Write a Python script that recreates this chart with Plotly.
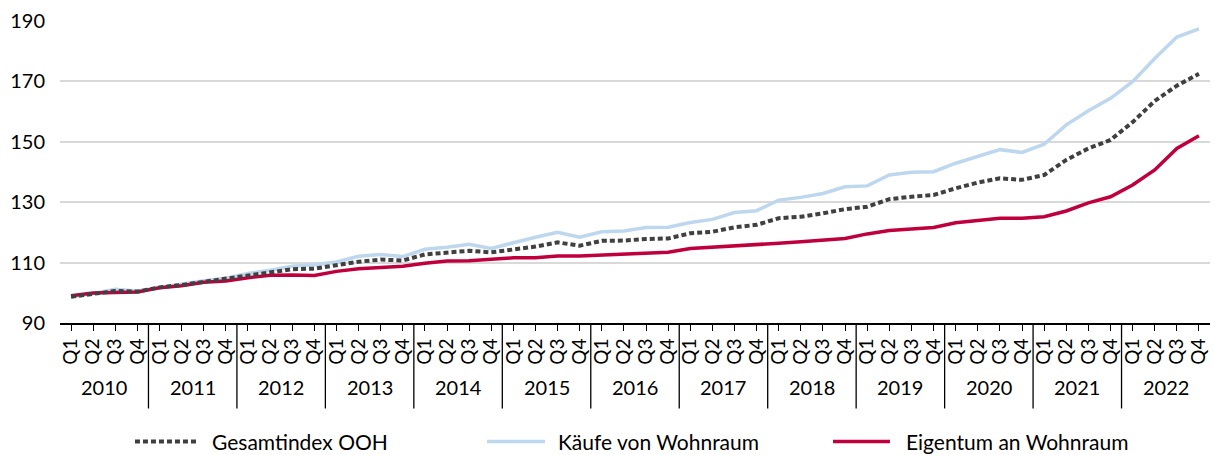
import plotly.graph_objects as go

# Quarterly periods 2010 Q1 – 2022 Q4
years = [str(y) for y in range(2010, 2023)]
quarters = ["Q1", "Q2", "Q3", "Q4"]

# Index values (2010 = 100)
gesamtindex_ooh = [
    98.7, 99.5, 100.6, 100.4, 101.8, 102.6, 103.7, 104.5, 105.9, 107.0, 107.8, 108.0,
    109.1, 110.3, 111.0, 110.7, 112.7, 113.4, 113.9, 113.4, 114.4, 115.3, 116.7, 115.6,
    117.2, 117.3, 117.8, 118.0, 119.7, 120.2, 121.7, 122.5, 124.7, 125.2, 126.3, 127.7,
    128.5, 131.0, 131.8, 132.4, 134.6, 136.5, 137.9, 137.4, 139.0, 144.0, 147.8, 150.6,
    156.5, 163.5, 168.6, 172.5,
]
kaeufe_wohnraum = [
    98.7, 99.8, 101.2, 100.6, 101.8, 102.9, 104.0, 104.8, 106.4, 107.5, 108.8, 109.3,
    110.2, 112.1, 112.7, 112.0, 114.4, 115.1, 116.1, 114.7, 116.6, 118.4, 120.0, 118.4,
    120.2, 120.5, 121.6, 121.7, 123.3, 124.3, 126.6, 127.2, 130.7, 131.6, 132.9, 135.1,
    135.4, 139.0, 139.9, 140.1, 142.9, 145.2, 147.4, 146.5, 149.2, 155.6, 160.3, 164.4,
    169.9, 177.6, 184.7, 187.4,
]
eigentum_wohnraum = [
    99.0, 99.9, 100.1, 100.3, 101.7, 102.3, 103.5, 103.9, 105.0, 105.8, 105.9, 105.7,
    107.1, 108.0, 108.4, 108.8, 109.8, 110.5, 110.6, 111.1, 111.6, 111.6, 112.2, 112.2,
    112.5, 112.8, 113.3, 113.4, 114.7, 115.1, 115.5, 115.8, 116.4, 116.9, 117.5, 118.0,
    119.5, 120.6, 121.1, 121.6, 123.2, 124.0, 124.7, 124.7, 125.2, 127.1, 129.8, 131.8,
    135.7, 140.7, 147.8, 152.0,
]

y_ticks = [90, 110, 130, 150, 170, 190]

series_names = ["Gesamtindex OOH", "Käufe von Wohnraum", "Eigentum an Wohnraum"]
colors = {"Gesamtindex OOH": "#404040",
          "Käufe von Wohnraum": "#BDD7EE",
          "Eigentum an Wohnraum": "#C0003C"}
dashes = {"Gesamtindex OOH": "5px,3px",
          "Käufe von Wohnraum": "solid",
          "Eigentum an Wohnraum": "solid"}
widths = {"Gesamtindex OOH": 4, "Käufe von Wohnraum": 3.5, "Eigentum an Wohnraum": 3.5}

FONT = "Lato"
n_periods = len(years) * len(quarters)
x_pos = list(range(n_periods))
tick_text = [q for _ in years for q in quarters]

fig = go.Figure()
values = {"Gesamtindex OOH": gesamtindex_ooh,
          "Käufe von Wohnraum": kaeufe_wohnraum,
          "Eigentum an Wohnraum": eigentum_wohnraum}
# drawing order: light blue underneath, dotted total index on top
for name in ["Käufe von Wohnraum", "Eigentum an Wohnraum", "Gesamtindex OOH"]:
    fig.add_trace(go.Scatter(
        x=x_pos, y=values[name], mode="lines", name=name, showlegend=False,
        line=dict(color=colors[name], width=widths[name], dash=dashes[name]),
    ))

shapes = []
annotations = []
# year separators and year labels beneath the quarter ticks
for k, yr in enumerate(years):
    centre = k * 4 + 1.5
    annotations.append(dict(x=centre, y=-0.212, xref="x", yref="paper", text=yr,
                            showarrow=False, xanchor="center", yanchor="middle",
                            font=dict(family=FONT, size=20, color="#000000")))
    if k > 0:
        bx = k * 4 - 0.5
        shapes.append(dict(type="line", xref="x", yref="paper", x0=bx, x1=bx,
                           y0=0, y1=-0.283, line=dict(color="#000000", width=1.3)))

# legend drawn beneath the axis
legend_pos = {"Gesamtindex OOH": (0.0652, 0.1191, 0.1313),
              "Käufe von Wohnraum": (0.3713, 0.4217, 0.4322),
              "Eigentum an Wohnraum": (0.6722, 0.7217, 0.7348)}
ly = -0.392
for name in series_names:
    x0, x1, xt = legend_pos[name]
    shapes.append(dict(type="line", xref="paper", yref="paper", x0=x0, x1=x1, y0=ly, y1=ly,
                       line=dict(color=colors[name], width=widths[name], dash=dashes[name])))
    annotations.append(dict(x=xt, y=ly, xref="paper", yref="paper", text=name,
                            showarrow=False, xanchor="left", yanchor="middle", borderpad=0,
                            font=dict(family=FONT, size=21, color="#000000")))

fig.update_layout(
    width=1214, height=455,
    margin=dict(l=60, r=4, t=21, b=132),
    paper_bgcolor="#ffffff", plot_bgcolor="#ffffff",
    font=dict(family=FONT, size=20, color="#000000"),
    shapes=shapes, annotations=annotations,
)
fig.update_xaxes(
    range=[-0.5, n_periods - 0.5], tickmode="array", tickvals=x_pos, ticktext=tick_text,
    tickangle=-90, ticks="outside", ticklen=6, tickwidth=1.3, tickcolor="#000000",
    showline=True, linecolor="#000000", linewidth=2, showgrid=False, zeroline=False,
    tickfont=dict(family=FONT, size=19, color="#000000"),
)
fig.update_yaxes(
    range=[90, 190], tickmode="array", tickvals=y_ticks,
    showgrid=True, gridcolor="#D9D9D9", gridwidth=1.5, zeroline=False,
    showline=False, ticks="", ticklabelstandoff=14,
    tickfont=dict(family=FONT, size=20, color="#000000"),
)

fig.write_html("out.html")
